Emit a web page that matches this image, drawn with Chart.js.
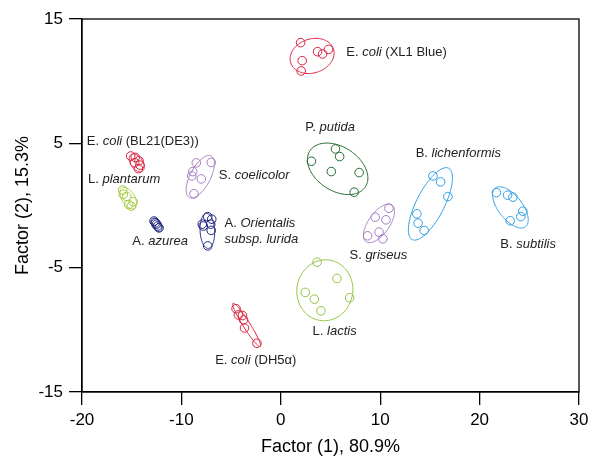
<!DOCTYPE html>
<html>
<head>
<meta charset="utf-8">
<script src="https://cdn.jsdelivr.net/npm/chart.js@4.4.0/dist/chart.umd.min.js"></script>
<style>
html, body { margin: 0; padding: 0; background: #fff; }
#wrap { width: 600px; height: 467px; }
</style>
</head>
<body>
<div id="wrap"><canvas id="factorChart"></canvas></div>
<script>
// axis ticks
const xTicks = [-20, -10, 0, 10, 20, 30]
const yTicks = [-15, -5, 5, 15]

// factor scores per strain, [factor1, factor2]
const xl1Blue = [[2.0, 13.1], [3.7, 12.37], [4.2, 12.19], [4.8, 12.56], [2.15, 11.65], [2.05, 10.82]]
const bl21 = [[-15.1, 3.98], [-14.65, 3.87], [-14.27, 3.6], [-14.17, 3.25], [-14.33, 2.96], [-14.7, 3.44]]
const dh5a = [[-4.5, -8.3], [-4.27, -8.8], [-3.85, -8.85], [-3.75, -9.2], [-3.65, -9.85], [-2.4, -11.08]]
const putida = [[5.5, 4.55], [5.92, 3.94], [3.08, 3.56], [5.08, 2.73], [7.88, 2.65], [7.38, 1.07]]
const lichenformis = [[15.31, 2.38], [16.08, 1.9], [16.81, 0.72], [13.69, -0.67], [13.81, -1.42], [14.42, -2.01]]
const subtilis = [[21.69, 1.04], [22.81, 0.83], [23.35, 0.67], [24.35, -0.46], [24.15, -0.89], [23.08, -1.23]]
const griseus = [[10.88, -0.22], [9.5, -0.94], [10.58, -1.15], [9.88, -2.14], [8.73, -2.44], [10.27, -2.68]]
const lactis = [[3.65, -4.56], [5.65, -5.87], [2.46, -6.99], [3.38, -7.53], [6.92, -7.42], [4.04, -8.47]]
const coelicolor = [[-8.5, 3.43], [-7.0, 3.46], [-8.85, 2.73], [-8.96, 2.38], [-8.0, 2.14], [-8.73, 0.94]]
const orientalis = [[-7.35, -0.9], [-6.95, -1.1], [-7.9, -1.5], [-7.8, -1.65], [-7.05, -1.5], [-7.0, -2.0], [-7.35, -3.25]]
const plantarum = [[-15.9, 1.25], [-15.85, 0.9], [-15.5, 0.72], [-14.85, 0.3], [-15.3, 0.08], [-15.05, -0.05]]
const azurea = [[-12.75, -1.25], [-12.6, -1.4], [-12.5, -1.5], [-12.4, -1.65], [-12.25, -1.8]]

// confidence ellipses: center and two conjugate half-axes, in factor units
// [cx, cy, ux, uy, vx, vy]
const xl1BlueEllipse = [3.15, 12.03, 2.15, 0.56, -0.53, 1.30]
const bl21Ellipse = [-14.49, 3.43, 0.58, -0.66, 0.49, 0.28]
const dh5aEllipse = [-3.44, -9.6, 1.37, -1.74, 0.30, 0.15]
const putidaEllipse = [5.72, 2.95, 2.79, -1.45, 1.21, 1.48]
const lichenformisEllipse = [15.05, 0.13, 1.83, 2.87, -1.25, 0.51]
const subtilisEllipse = [23.1, -0.15, 1.52, -1.55, 0.95, 0.59]
const griseusEllipse = [9.88, -1.44, 1.30, 1.48, -0.87, 0.48]
const lactisEllipse = [4.43, -6.82, 0.53, 2.42, -2.77, 0.39]
const coelicolorEllipse = [-8.1, 2.31, 1.11, 1.67, -0.89, 0.38]
const orientalisEllipse = [-7.39, -2.04, -0.09, 1.41, -0.73, -0.03]
const plantarumEllipse = [-15.35, 0.6, 0.64, -0.82, 0.55, 0.28]
const azureaEllipse = [-12.5, -1.55, 0.43, -0.49, 0.37, 0.21]

const red = '#d81e3c'
const green = '#1f6b2c'
const blue = '#2e9fe2'
const purple = '#a27cc2'
const navy = '#1c237a'
const lime = '#a3c83c'
const lime2 = '#8fc440'

const groups = [
    { pts: xl1Blue, ell: xl1BlueEllipse, color: red, label: [['E. ', 0], ['coli', 1], [' (XL1 Blue)', 0]], at: [6.59, 12.29] },
    { pts: bl21, ell: bl21Ellipse, color: red, label: [['E. ', 0], ['coli', 1], [' (BL21(DE3))', 0]], at: [-19.52, 5.15] },
    { pts: dh5a, ell: dh5aEllipse, color: red, label: [['E. ', 0], ['coli', 1], [' (DH5\u03b1)', 0]], at: [-6.6, -12.47] },
    { pts: putida, ell: putidaEllipse, color: green, label: [['P. ', 0], ['putida', 1]], at: [2.46, 6.26] },
    { pts: lichenformis, ell: lichenformisEllipse, color: blue, label: [['B. ', 0], ['lichenformis', 1]], at: [13.57, 4.16] },
    { pts: subtilis, ell: subtilisEllipse, color: blue, label: [['B. ', 0], ['subtilis', 1]], at: [22.08, -3.16] },
    { pts: griseus, ell: griseusEllipse, color: purple, label: [['S. ', 0], ['griseus', 1]], at: [6.91, -4.04] },
    { pts: lactis, ell: lactisEllipse, color: lime2, label: [['L. ', 0], ['lactis', 1]], at: [3.2, -10.13] },
    { pts: coelicolor, ell: coelicolorEllipse, color: purple, label: [['S. ', 0], ['coelicolor', 1]], at: [-6.24, 2.39] },
    { pts: orientalis, ell: orientalisEllipse, color: navy, label: [['A. ', 0], ['Orientalis', 1]], at: [-5.66, -1.47] },
    { pts: plantarum, ell: plantarumEllipse, color: lime, label: [['L. ', 0], ['plantarum', 1]], at: [-19.4, 2.07] },
    { pts: azurea, ell: azureaEllipse, color: navy, label: [['A. ', 0], ['azurea', 1]], at: [-14.94, -2.89] }
]
const extraLabels = [
    { label: [['subsp. lurida', 1]], at: [-5.66, -2.7] }
]

const FONT = "'Liberation Sans', Arial, sans-serif"

const ellipsePlugin = {
    id: 'ellipses',
    beforeDatasetsDraw(chart) {
        const { ctx, scales: { x, y } } = chart
        ctx.save()
        ctx.lineWidth = 1
        groups.forEach(g => {
            const [cx, cy, ux, uy, vx, vy] = g.ell
            ctx.strokeStyle = g.color
            ctx.beginPath()
            for (let i = 0; i <= 120; i++) {
                const t = i / 120 * Math.PI * 2
                const px = x.getPixelForValue(cx + Math.cos(t) * ux + Math.sin(t) * vx)
                const py = y.getPixelForValue(cy + Math.cos(t) * uy + Math.sin(t) * vy)
                if (i === 0) ctx.moveTo(px, py)
                else ctx.lineTo(px, py)
            }
            ctx.closePath()
            ctx.stroke()
        })
        ctx.restore()
    }
}

const labelPlugin = {
    id: 'strainLabels',
    afterDatasetsDraw(chart) {
        const { ctx, scales: { x, y } } = chart
        ctx.save()
        ctx.fillStyle = '#222'
        ctx.textBaseline = 'middle'
        ctx.textAlign = 'left'
        groups.concat(extraLabels).forEach(item => {
            let px = x.getPixelForValue(item.at[0])
            const py = y.getPixelForValue(item.at[1])
            item.label.forEach(([text, italic]) => {
                ctx.font = (italic ? 'italic ' : '') + '13px ' + FONT
                ctx.fillText(text, px, py)
                px += ctx.measureText(text).width
            })
        })
        // box round the plot area
        const a = chart.chartArea
        ctx.strokeStyle = '#000'
        ctx.lineWidth = 1.3
        ctx.strokeRect(a.left, a.top, a.right - a.left, a.bottom - a.top)
        ctx.restore()
    }
}

new Chart(document.getElementById('factorChart'), {
    type: 'scatter',
    data: {
        datasets: groups.map(g => ({
            data: g.pts.map(p => ({ x: p[0], y: p[1] })),
            borderColor: g.color,
            backgroundColor: 'rgba(0,0,0,0)',
            borderWidth: 1,
            pointRadius: 4.3,
            pointHoverRadius: 4.3
        }))
    },
    options: {
        responsive: true,
        maintainAspectRatio: false,
        animation: false,
        layout: { padding: { top: 19, right: 21, left: 0, bottom: 0 } },
        plugins: {
            legend: { display: false },
            tooltip: { enabled: false }
        },
        scales: {
            x: {
                type: 'linear',
                min: xTicks[0],
                max: xTicks[xTicks.length - 1],
                afterBuildTicks: s => { s.ticks = xTicks.map(v => ({ value: v })) },
                afterFit: s => { s.height = 75 },
                grid: { drawOnChartArea: false, drawTicks: true, tickLength: 13, color: '#000', lineWidth: 1.3 },
                border: { display: true, color: '#000', width: 1.3 },
                ticks: { color: '#000', padding: 5, font: { size: 17, family: FONT } },
                title: { display: true, text: 'Factor (1), 80.9%', color: '#000', font: { size: 18, family: FONT }, padding: { top: 0, bottom: 9 } }
            },
            y: {
                type: 'linear',
                min: yTicks[0],
                max: yTicks[yTicks.length - 1],
                afterBuildTicks: s => { s.ticks = yTicks.map(v => ({ value: v })) },
                afterFit: s => { s.width = 82 },
                grid: { drawOnChartArea: false, drawTicks: true, tickLength: 13, color: '#000', lineWidth: 1.3 },
                border: { display: true, color: '#000', width: 1.3 },
                ticks: { color: '#000', padding: 6, font: { size: 17, family: FONT } },
                title: { display: true, text: 'Factor (2), 15.3%', color: '#000', font: { size: 18, family: FONT }, padding: { top: 12, bottom: 0 } }
            }
        }
    },
    plugins: [ellipsePlugin, labelPlugin]
})
</script>
</body>
</html>
